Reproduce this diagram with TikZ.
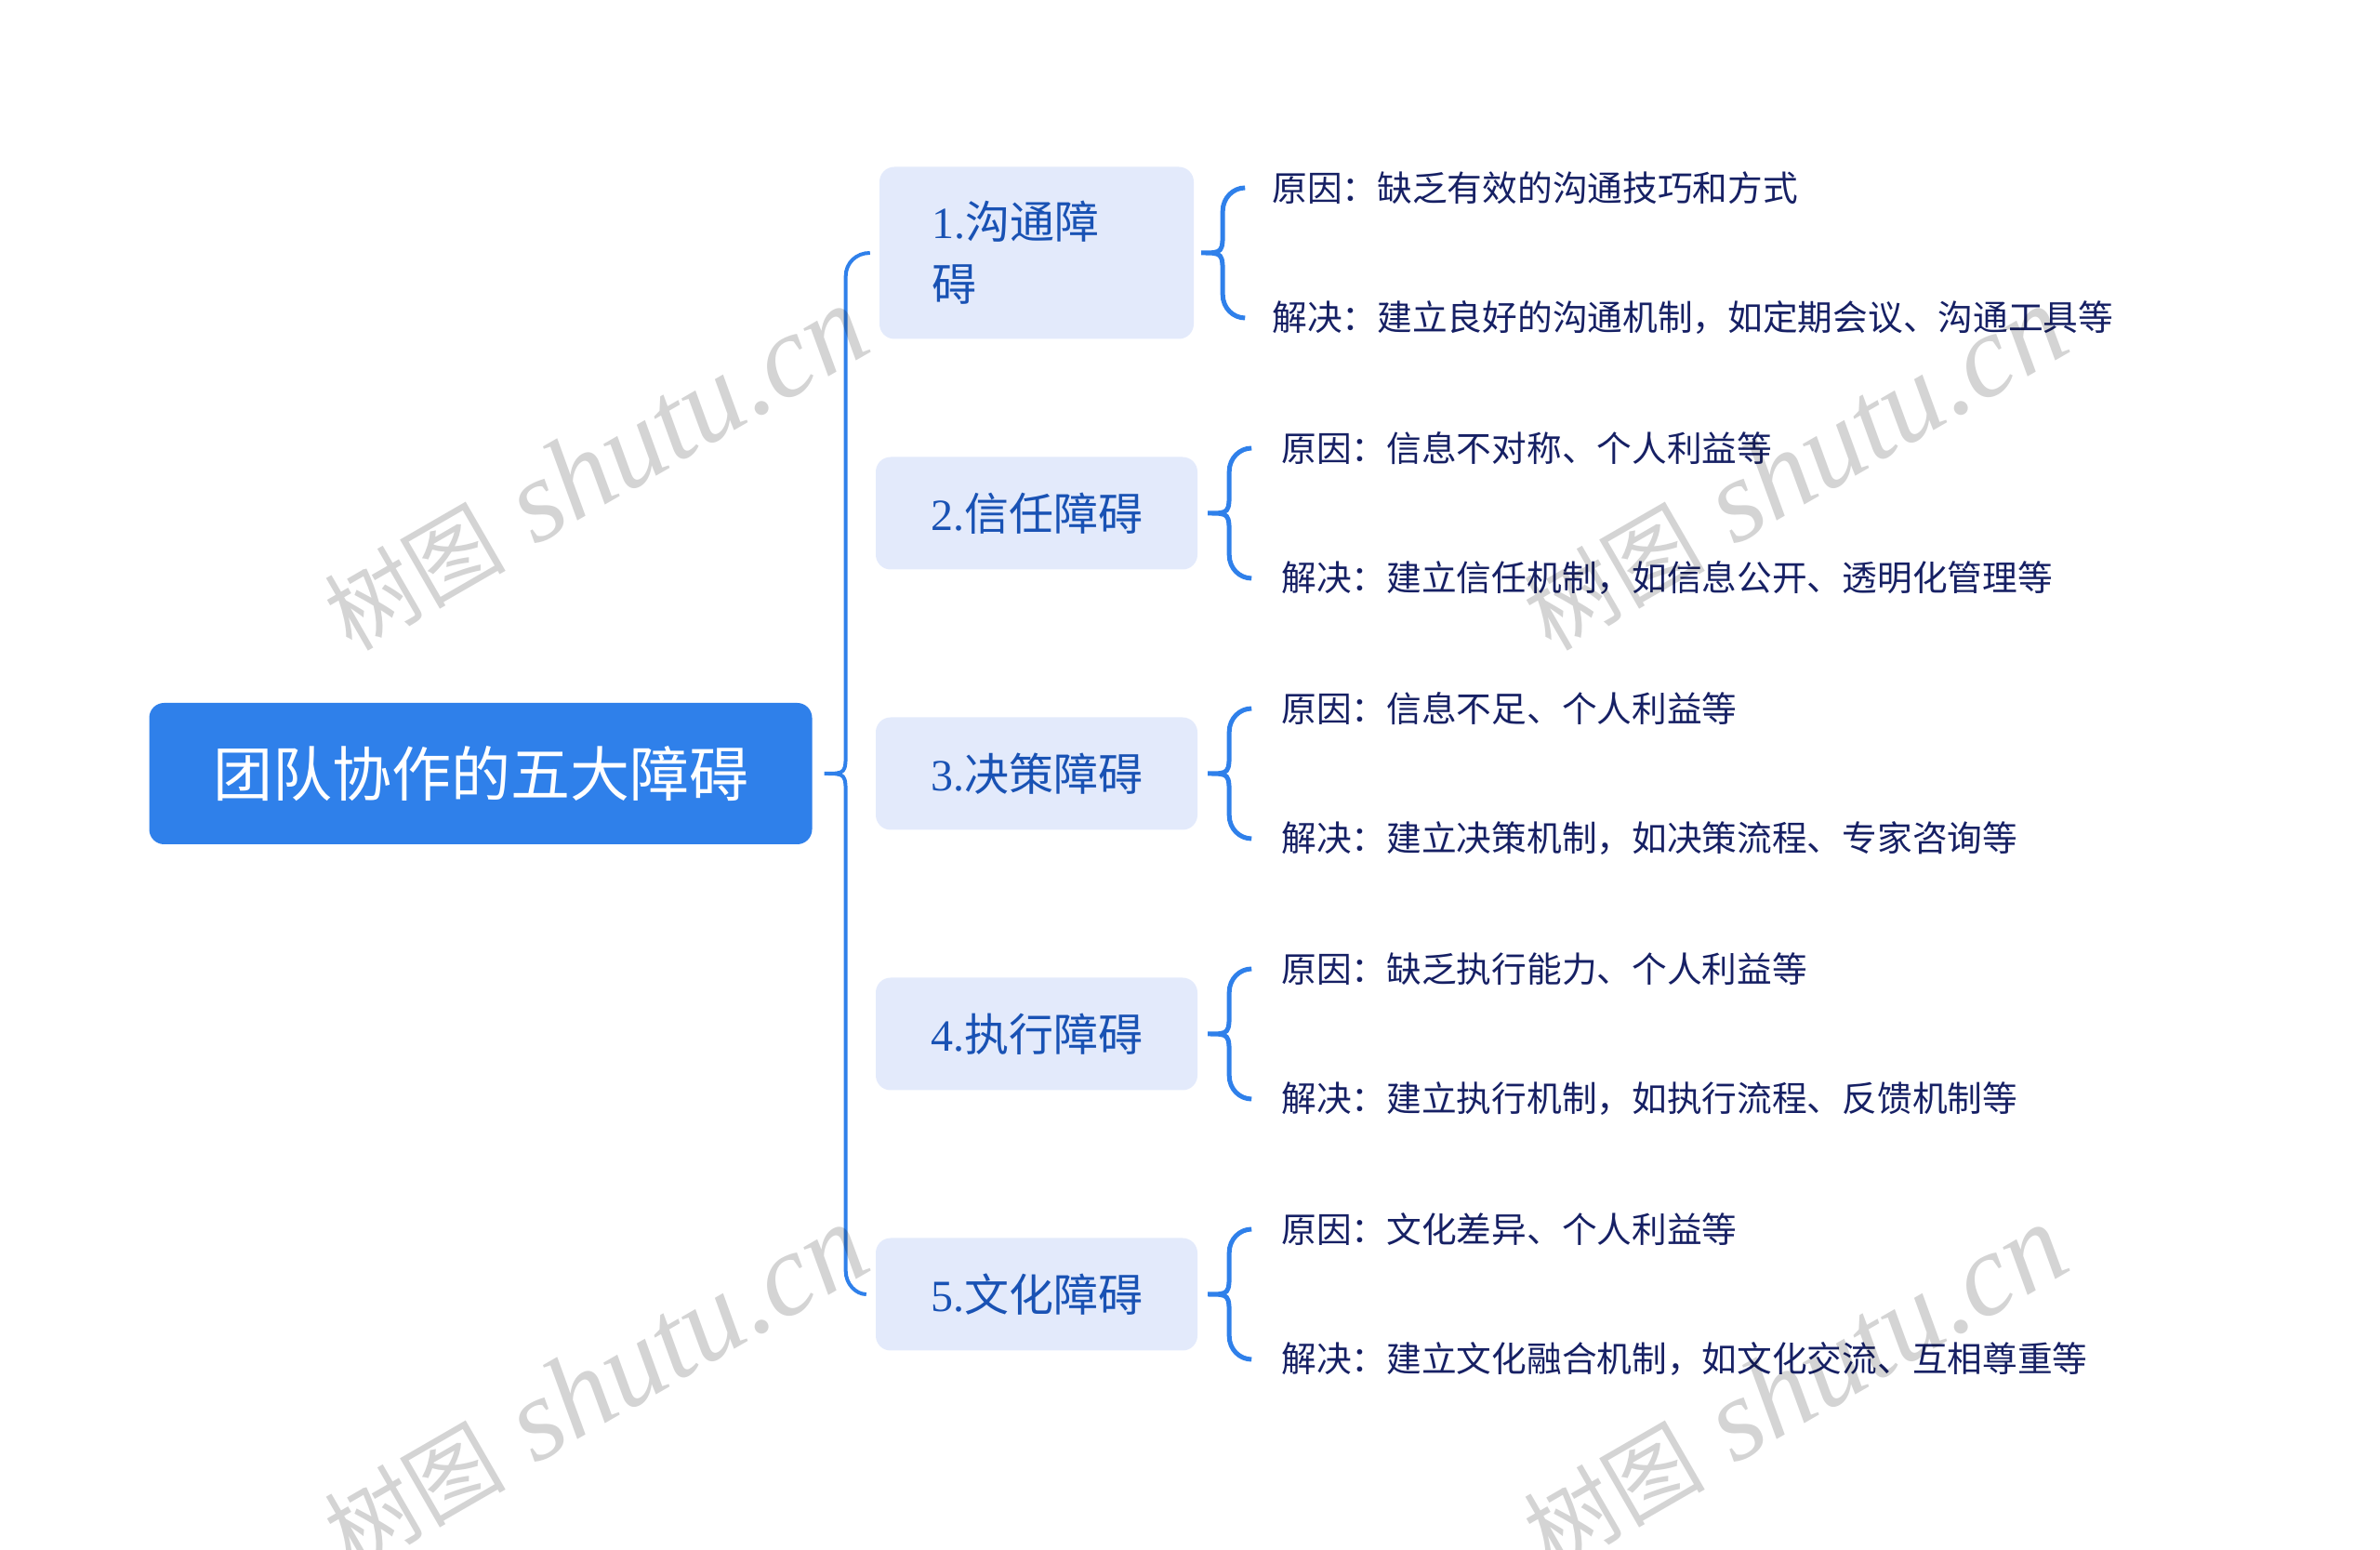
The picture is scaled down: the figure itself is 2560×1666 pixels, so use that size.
\documentclass[tikz,border=0pt]{standalone}
\usepackage{fontspec}
\setmainfont{Liberation Serif}
\newfontfamily\cjk{Noto Sans CJK SC}
\usepackage{tikz}
\usetikzlibrary{positioning,calc}
\definecolor{mapblue}{RGB}{47,128,234}
\definecolor{boxfill}{RGB}{227,234,251}
\definecolor{boxtext}{RGB}{25,82,180}
\definecolor{leaftext}{RGB}{22,32,100}

\begin{document}
\begin{tikzpicture}[x=1pt, y=1pt, node distance=280pt]
\tikzstyle{root}=[rectangle, rounded corners=16pt, fill=mapblue, text=white, minimum width=713pt, minimum height=152pt, font=\cjk\fontsize{64}{77}\selectfont]
\tikzstyle{branch}=[rectangle, rounded corners=16pt, fill=boxfill, text=boxtext, minimum width=346pt, minimum height=121pt, font=\fontsize{48}{67}\selectfont]
\tikzstyle{leaf}=[anchor=west, inner sep=0pt, text=leaftext, font=\cjk\fontsize{37.7}{46}\selectfont]
\tikzstyle{halfbrace}=[draw=mapblue, line width=5pt, to path={let \p1=(\tikztostart), \p2=(\tikztotarget) in
  .. controls (\x1+23pt,\y1) .. ($(\x1+23pt,\y1)!26pt!(\x1+23pt,\y2)$)
  -- ($(\x1+23pt,\y2)!25pt!(\x1+23pt,\y1)$)
  .. controls ($(\x1+23pt,\y2)!11pt!(\x1+23pt,\y1)$) and (\x1+34pt,\y2) .. (\tikztotarget)}]
\tikzstyle{wmark}=[text=black, opacity=0.17, rotate=30]
\useasboundingbox (0,0) rectangle (2560,1666);

\node[root]    (T)  at (517,834)   {团队协作的五大障碍};
\node[branch, minimum width=338pt, minimum height=185pt, text width=226pt, align=left]
               (B1) at (1115,1394) {1.{\cjk 沟通障}\\{\cjk 碍}};
\node[branch]  (B2) [below of=B1]  {2.{\cjk 信任障碍}};
\node[branch]  (B3) [below of=B2]  {3.{\cjk 决策障碍}};
\node[branch]  (B4) [below of=B3]  {4.{\cjk 执行障碍}};
\node[branch]  (B5) [below of=B4]  {5.{\cjk 文化障碍}};

% main brace
\coordinate (n0) at ($(T.east)+(13,0)$);
\draw[halfbrace, line width=4pt] (n0) to ($(B1.west)+(-10,0)$)
                                 (n0) to ($(B5.west)+(-10,0)$);

% causes and solutions
\coordinate (n1) at ($(B1.east)+(8,0)$);
\coordinate (n2) at ($(B2.east)+(11,0)$);
\coordinate (n3) at ($(B3.east)+(11,0)$);
\coordinate (n4) at ($(B4.east)+(11,0)$);
\coordinate (n5) at ($(B5.east)+(11,0)$);
\node[leaf] (C1) at ($(n1)+(76,70)$)  {原因：缺乏有效的沟通技巧和方式};
\node[leaf] (S1) at ($(n1)+(76,-70)$) {解决：建立良好的沟通机制，如定期会议、沟通工具等};
\node[leaf] (C2) at ($(n2)+(79,70)$)  {原因：信息不对称、个人利益等};
\node[leaf] (S2) at ($(n2)+(79,-70)$) {解决：建立信任机制，如信息公开、透明化管理等};
\node[leaf] (C3) at ($(n3)+(79,70)$)  {原因：信息不足、个人利益等};
\node[leaf] (S3) at ($(n3)+(79,-70)$) {解决：建立决策机制，如决策流程、专家咨询等};
\node[leaf] (C4) at ($(n4)+(79,70)$)  {原因：缺乏执行能力、个人利益等};
\node[leaf] (S4) at ($(n4)+(79,-70)$) {解决：建立执行机制，如执行流程、反馈机制等};
\node[leaf] (C5) at ($(n5)+(79,70)$)  {原因：文化差异、个人利益等};
\node[leaf] (S5) at ($(n5)+(79,-70)$) {解决：建立文化融合机制，如文化交流、互相尊重等};

\draw[halfbrace] (n1) to ($(C1.west)+(-29,0)$) (n1) to ($(S1.west)+(-29,0)$)
                 (n2) to ($(C2.west)+(-32,0)$) (n2) to ($(S2.west)+(-32,0)$)
                 (n3) to ($(C3.west)+(-32,0)$) (n3) to ($(S3.west)+(-32,0)$)
                 (n4) to ($(C4.west)+(-32,0)$) (n4) to ($(S4.west)+(-32,0)$)
                 (n5) to ($(C5.west)+(-32,0)$) (n5) to ($(S5.west)+(-32,0)$);

% watermark
\newcommand\wtext{{\cjk\fontsize{98}{100}\selectfont 树图}{\fontsize{126}{130}\selectfont\itshape\ shutu.cn}}
\node[wmark] (W1) at (640,1162)  {\wtext};
\node[wmark] (W2) at (1930,1162) {\wtext};
\node[wmark] (W3) at (640,174)   {\wtext};
\node[wmark] (W4) at (1930,174)  {\wtext};
\end{tikzpicture}
\end{document}
